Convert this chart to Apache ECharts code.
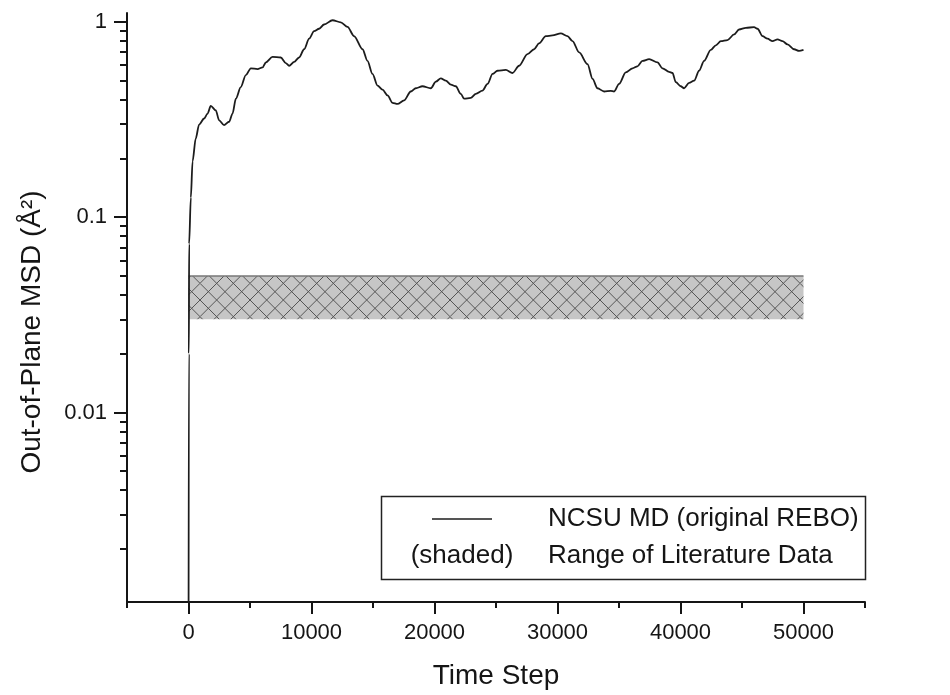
<!DOCTYPE html>
<html><head><meta charset="utf-8">
<script src="https://cdn.jsdelivr.net/npm/echarts@6/dist/echarts.min.js"></script>
<style>html,body{margin:0;padding:0;background:#fff}#c{width:950px;height:695px}</style>
</head><body><div id="c"></div>
<script>
// ---- data ----
const timeSteps = [0, 30, 50, 190, 330, 590, 860, 1270, 1550, 1810, 2220, 2490, 2890, 3300, 3580, 3850, 4250, 4660, 5070, 5610, 6020, 6290, 6830, 7500, 7910, 8180, 8590, 8990, 9400, 9810, 10210, 10620, 11020, 11710, 12380, 12930, 13460, 14150, 14550, 14960, 15370, 15770, 16180, 16590, 16990, 17530, 18070, 18480, 19020, 19700, 20110, 20510, 20920, 21330, 21730, 22140, 22410, 22950, 23360, 23900, 24310, 24720, 25120, 25800, 26340, 26880, 27560, 28100, 28500, 29050, 29590, 30270, 30810, 31220, 31760, 32440, 32850, 33250, 33790, 34330, 34600, 35010, 35550, 36100, 36500, 36910, 37450, 38130, 38540, 39070, 39350, 39620, 40020, 40290, 40700, 41110, 41510, 41920, 42460, 42870, 43280, 43820, 44360, 44760, 45310, 45980, 46260, 46670, 47070, 47480, 47890, 48290, 48700, 49240, 49640, 50000];
const msdValues = [0.0003, 0.02, 0.073, 0.126, 0.193, 0.253, 0.298, 0.320, 0.339, 0.371, 0.352, 0.313, 0.296, 0.308, 0.339, 0.404, 0.463, 0.534, 0.578, 0.573, 0.584, 0.620, 0.661, 0.657, 0.615, 0.596, 0.624, 0.657, 0.724, 0.820, 0.896, 0.922, 0.969, 1.019, 0.995, 0.943, 0.845, 0.724, 0.631, 0.541, 0.471, 0.450, 0.420, 0.385, 0.380, 0.396, 0.440, 0.457, 0.468, 0.457, 0.494, 0.514, 0.500, 0.477, 0.468, 0.428, 0.404, 0.408, 0.428, 0.445, 0.481, 0.541, 0.562, 0.568, 0.547, 0.596, 0.683, 0.724, 0.776, 0.845, 0.852, 0.872, 0.845, 0.797, 0.697, 0.607, 0.510, 0.457, 0.440, 0.443, 0.440, 0.481, 0.551, 0.578, 0.592, 0.631, 0.644, 0.620, 0.578, 0.555, 0.547, 0.491, 0.468, 0.457, 0.487, 0.500, 0.562, 0.631, 0.718, 0.758, 0.797, 0.807, 0.862, 0.914, 0.932, 0.939, 0.922, 0.845, 0.820, 0.797, 0.813, 0.797, 0.767, 0.724, 0.710, 0.718];
const bandX = [0, 50000];
const bandRange = [0.03, 0.05];
const xRange = [-5000, 55000];
const yRange = [0.00107, 1.11];
const xMajorTicks = [0, 10000, 20000, 30000, 40000, 50000];
const xMinorTicks = [-5000, 5000, 15000, 25000, 35000, 45000, 55000];
const yMajorTicks = [0.01, 0.1, 1];
const yMajorLabels = ['0.01', '0.1', '1'];
const yMinorTicks = [0.002, 0.003, 0.004, 0.005, 0.006, 0.007, 0.008, 0.009,
                     0.02, 0.03, 0.04, 0.05, 0.06, 0.07, 0.08, 0.09,
                     0.2, 0.3, 0.4, 0.5, 0.6, 0.7, 0.8, 0.9];
const xTitle = 'Time Step';
const yTitle = 'Out-of-Plane MSD (Å²)';
const legendKeys = ['', '(shaded)'];
const legendLabels = ['NCSU MD (original REBO)', 'Range of Literature Data'];

// ---- styling ----
const FONT = 'Liberation Sans, Arial, Helvetica, sans-serif';
const INK = '#151515';

function hatchCanvas() {
  const c = document.createElement('canvas');
  c.width = 50; c.height = 50;
  const g = c.getContext('2d');
  g.fillStyle = '#c6c6c6';
  g.fillRect(0, 0, 50, 50);
  g.strokeStyle = '#555555';
  g.lineWidth = 1;
  g.beginPath();
  const s = 50 / 3;
  for (let k = -3; k <= 6; k++) {
    const c0 = k * s;
    g.moveTo(0, c0); g.lineTo(50, c0 + 50);
    g.moveTo(0, c0); g.lineTo(50, c0 - 50);
  }
  g.stroke();
  return c;
}
const hatch = hatchCanvas();

const chart = echarts.init(document.getElementById('c'), null, {renderer: 'canvas'});
const lineData = timeSteps.map((t, i) => [t, msdValues[i]]);
const lg = Math.log10;
const noZeroLine = {show: false, onZero: false};

const option = {
  animation: false,
  backgroundColor: '#ffffff',
  grid: {left: 127, right: 85, top: 13, bottom: 87, containLabel: false},
  xAxis: [
    {
      type: 'value', min: xRange[0], max: xRange[1], position: 'bottom',
      name: xTitle, nameLocation: 'middle', nameGap: 60,
      nameTextStyle: {fontFamily: FONT, fontSize: 28, color: INK},
      axisLine: {show: true, onZero: false, lineStyle: {color: INK, width: 2}},
      axisTick: {show: true, customValues: xMajorTicks, length: 12, lineStyle: {color: INK, width: 2}},
      axisLabel: {show: true, customValues: xMajorTicks, margin: 20, fontFamily: FONT, fontSize: 22, color: INK,
                  formatter: v => String(Math.round(v))},
      splitLine: {show: false}
    },
    {
      type: 'value', min: xRange[0], max: xRange[1], position: 'bottom', offset: 0,
      axisLine: noZeroLine,
      axisTick: {show: true, customValues: xMinorTicks, length: 6, lineStyle: {color: INK, width: 2}},
      axisLabel: {show: false},
      splitLine: {show: false}
    }
  ],
  yAxis: [
    {
      type: 'log', logBase: 10, min: yRange[0], max: yRange[1], position: 'left',
      name: yTitle, nameLocation: 'middle', nameGap: 81, nameRotate: 90,
      nameTextStyle: {fontFamily: FONT, fontSize: 28, color: INK, padding: [0, 49, 0, 0]},
      axisLine: {show: true, onZero: false, lineStyle: {color: INK, width: 2}},
      axisTick: {show: false},
      axisLabel: {show: false},
      minorTick: {show: false},
      splitLine: {show: false}
    },
    {
      type: 'value', min: lg(yRange[0]), max: lg(yRange[1]), position: 'left', offset: 0,
      axisLine: noZeroLine,
      axisTick: {show: true, customValues: yMajorTicks.map(lg), length: 13, lineStyle: {color: INK, width: 2}},
      axisLabel: {
        show: true, customValues: yMajorTicks.map(lg), margin: 20,
        fontFamily: FONT, fontSize: 22, color: INK,
        formatter: v => {
          let best = 0;
          yMajorTicks.forEach((t, i) => { if (Math.abs(lg(t) - v) < Math.abs(lg(yMajorTicks[best]) - v)) best = i; });
          return yMajorLabels[best];
        }
      },
      splitLine: {show: false}
    },
    {
      type: 'value', min: lg(yRange[0]), max: lg(yRange[1]), position: 'left', offset: 0,
      axisLine: noZeroLine,
      axisTick: {show: true, customValues: yMinorTicks.map(lg), length: 7, lineStyle: {color: INK, width: 2}},
      axisLabel: {show: false},
      splitLine: {show: false}
    }
  ],
  series: [
    {
      type: 'custom', name: legendLabels[1], xAxisIndex: 0, yAxisIndex: 0, clip: true, z: 2,
      data: [[bandX[0], bandX[1], bandRange[0], bandRange[1]]],
      encode: {x: [0, 1], y: [2, 3]},
      renderItem: (params, api) => {
        const pTL = api.coord([api.value(0), api.value(3)]);
        const pBR = api.coord([api.value(1), api.value(2)]);
        return {
          type: 'group',
          children: [
            {type: 'rect', shape: {x: pTL[0], y: pTL[1], width: pBR[0] - pTL[0], height: pBR[1] - pTL[1]},
             style: {fill: {image: hatch, repeat: 'repeat'}, stroke: null}},
            {type: 'line', shape: {x1: pTL[0], y1: pTL[1], x2: pBR[0], y2: pTL[1]},
             style: {stroke: '#777777', lineWidth: 1.5}}
          ]
        };
      }
    },
    {
      type: 'line', name: legendLabels[0], xAxisIndex: 0, yAxisIndex: 0, data: lineData,
      showSymbol: false, symbol: 'none', smooth: 0.3, smoothMonotone: 'x', clip: true, z: 3,
      lineStyle: {color: '#1c1c1c', width: 1.8}
    }
  ],
  graphic: [
    {type: 'rect', z: 10, shape: {x: 381.5, y: 496.5, width: 484, height: 83},
     style: {fill: '#ffffff', stroke: '#222222', lineWidth: 1.5}},
    {type: 'line', z: 11, shape: {x1: 432, y1: 519, x2: 492, y2: 519},
     style: {stroke: '#1c1c1c', lineWidth: 1.5}},
    {type: 'text', z: 11, style: {text: legendKeys[1], x: 462, y: 556, align: 'center', verticalAlign: 'middle',
      fontFamily: FONT, fontSize: 26, fill: INK}},
    {type: 'text', z: 11, style: {text: legendLabels[0], x: 548, y: 519, align: 'left', verticalAlign: 'middle',
      fontFamily: FONT, fontSize: 26, fill: INK}},
    {type: 'text', z: 11, style: {text: legendLabels[1], x: 548, y: 556, align: 'left', verticalAlign: 'middle',
      fontFamily: FONT, fontSize: 26, fill: INK}}
  ]
};
chart.setOption(option);
</script>
</body></html>
